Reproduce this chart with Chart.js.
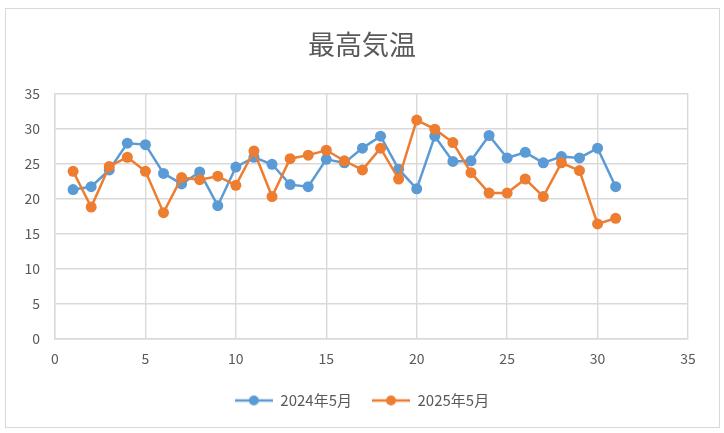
<!DOCTYPE html>
<html>
<head>
<meta charset="utf-8">
<script src="https://cdn.jsdelivr.net/npm/chart.js@4.4.1/dist/chart.umd.min.js"></script>
<style>
  body { margin: 0; background: #fff; }
  #wrap { position: absolute; left: 0; top: 0; width: 724px; height: 433px; }
</style>
</head>
<body>
<div id="wrap"><canvas id="myChart" width="724" height="433"></canvas></div>
<script>
// 日付 (5月の日)
const days = [1,2,3,4,5,6,7,8,9,10,11,12,13,14,15,16,17,18,19,20,21,22,23,24,25,26,27,28,29,30,31];
const temp2024 = [21.3,21.7,24.1,27.9,27.7,23.6,22.1,23.8,19.0,24.5,25.9,24.9,22.0,21.7,25.6,25.1,27.2,28.9,24.2,21.4,28.9,25.3,25.4,29.0,25.8,26.6,25.1,26.0,25.8,27.2,21.7];
const temp2025 = [23.9,18.8,24.6,25.9,23.9,18.0,23.0,22.7,23.2,21.9,26.8,20.3,25.7,26.2,26.9,25.4,24.1,27.2,22.8,31.2,29.9,28.0,23.7,20.8,20.8,22.8,20.3,25.1,24.0,16.4,17.2];
const seriesNames = ['2024年5月', '2025年5月'];
const seriesColors = ['#5B9BD5', '#ED7D31'];

const FONT = '"Noto Sans CJK JP", "Noto Sans", sans-serif';
const TEXT = '#595959';
const GRID = '#d9d9d9';

function toPoints(values) {
    let pts = [];
    for (let i = 0; i < days.length; i++) {
        pts.push({ x: days[i], y: values[i] });
    }
    return pts;
}

// legend marker: line with a dot in the middle
function legendMarker(color) {
    let c = document.createElement('canvas');
    c.width = 38; c.height = 12;
    let g = c.getContext('2d');
    g.strokeStyle = color;
    g.lineWidth = 2.5;
    g.beginPath(); g.moveTo(0, 6); g.lineTo(38, 6); g.stroke();
    g.fillStyle = color;
    g.beginPath(); g.arc(19, 6, 5, 0, Math.PI * 2); g.fill();
    return c;
}

const borderBox = {
    id: 'borderBox',
    beforeDraw(chart) {
        let ctx = chart.ctx;
        ctx.save();
        ctx.fillStyle = '#fff';
        ctx.fillRect(0, 0, chart.width, chart.height);
        ctx.strokeStyle = GRID;
        ctx.lineWidth = 1;
        ctx.strokeRect(5.5, 8.5, 714, 419);
        ctx.restore();
    }
};

function makeDataset(idx, values) {
    return {
        label: seriesNames[idx],
        data: toPoints(values),
        showLine: true,
        borderColor: seriesColors[idx],
        backgroundColor: seriesColors[idx],
        borderWidth: 2.5,
        pointStyle: 'circle',
        pointRadius: 5.5,
        pointHoverRadius: 5.5,
        pointBorderWidth: 0,
        order: 2 - idx
    };
}

let ctx = document.getElementById('myChart').getContext('2d');
let myChart = new Chart(ctx, {
    type: 'scatter',
    data: {
        datasets: [makeDataset(0, temp2024), makeDataset(1, temp2025)]
    },
    plugins: [borderBox],
    options: {
        responsive: false,
        animation: false,
        layout: { padding: { top: 29, right: 0, bottom: 15, left: 0 } },
        scales: {
            x: {
                type: 'linear',
                min: 0, max: 35,
                ticks: { stepSize: 5, color: TEXT, font: { family: FONT, size: 14 }, padding: 11 },
                grid: { color: GRID, lineWidth: 1.4, drawTicks: false },
                border: { color: GRID, width: 1.4 },
                afterFit: function (axis) { axis.height = 34; }
            },
            y: {
                min: 0, max: 35,
                ticks: { stepSize: 5, color: TEXT, font: { family: FONT, size: 14 }, padding: 15 },
                grid: { color: GRID, lineWidth: 1.4, drawTicks: false },
                border: { color: GRID, width: 1.4 },
                afterFit: function (axis) { axis.width = 55; }
            },
            // empty right-hand spacer so the plot ends where the original does
            spacer: {
                type: 'linear',
                position: 'right',
                ticks: { display: false },
                grid: { display: false },
                border: { display: false },
                afterFit: function (axis) { axis.width = 36; }
            }
        },
        plugins: {
            title: {
                display: true,
                text: '最高気温',
                color: TEXT,
                font: { family: FONT, size: 27, weight: 'normal' },
                padding: { top: 0, bottom: 32 }
            },
            legend: {
                position: 'bottom',
                labels: {
                    color: TEXT,
                    font: { family: FONT, size: 15 },
                    usePointStyle: true,
                    pointStyleWidth: 38,
                    padding: 20,
                    sort: function (a, b) { return a.datasetIndex - b.datasetIndex; },
                    generateLabels: function (chart) {
                        return chart.data.datasets.map(function (ds, i) {
                            return {
                                text: ds.label,
                                fontColor: TEXT,
                                pointStyle: legendMarker(seriesColors[i]),
                                datasetIndex: i,
                                lineWidth: 0,
                                strokeStyle: seriesColors[i],
                                fillStyle: seriesColors[i]
                            };
                        });
                    }
                }
            },
            tooltip: { enabled: false }
        }
    }
});
</script>
</body>
</html>
